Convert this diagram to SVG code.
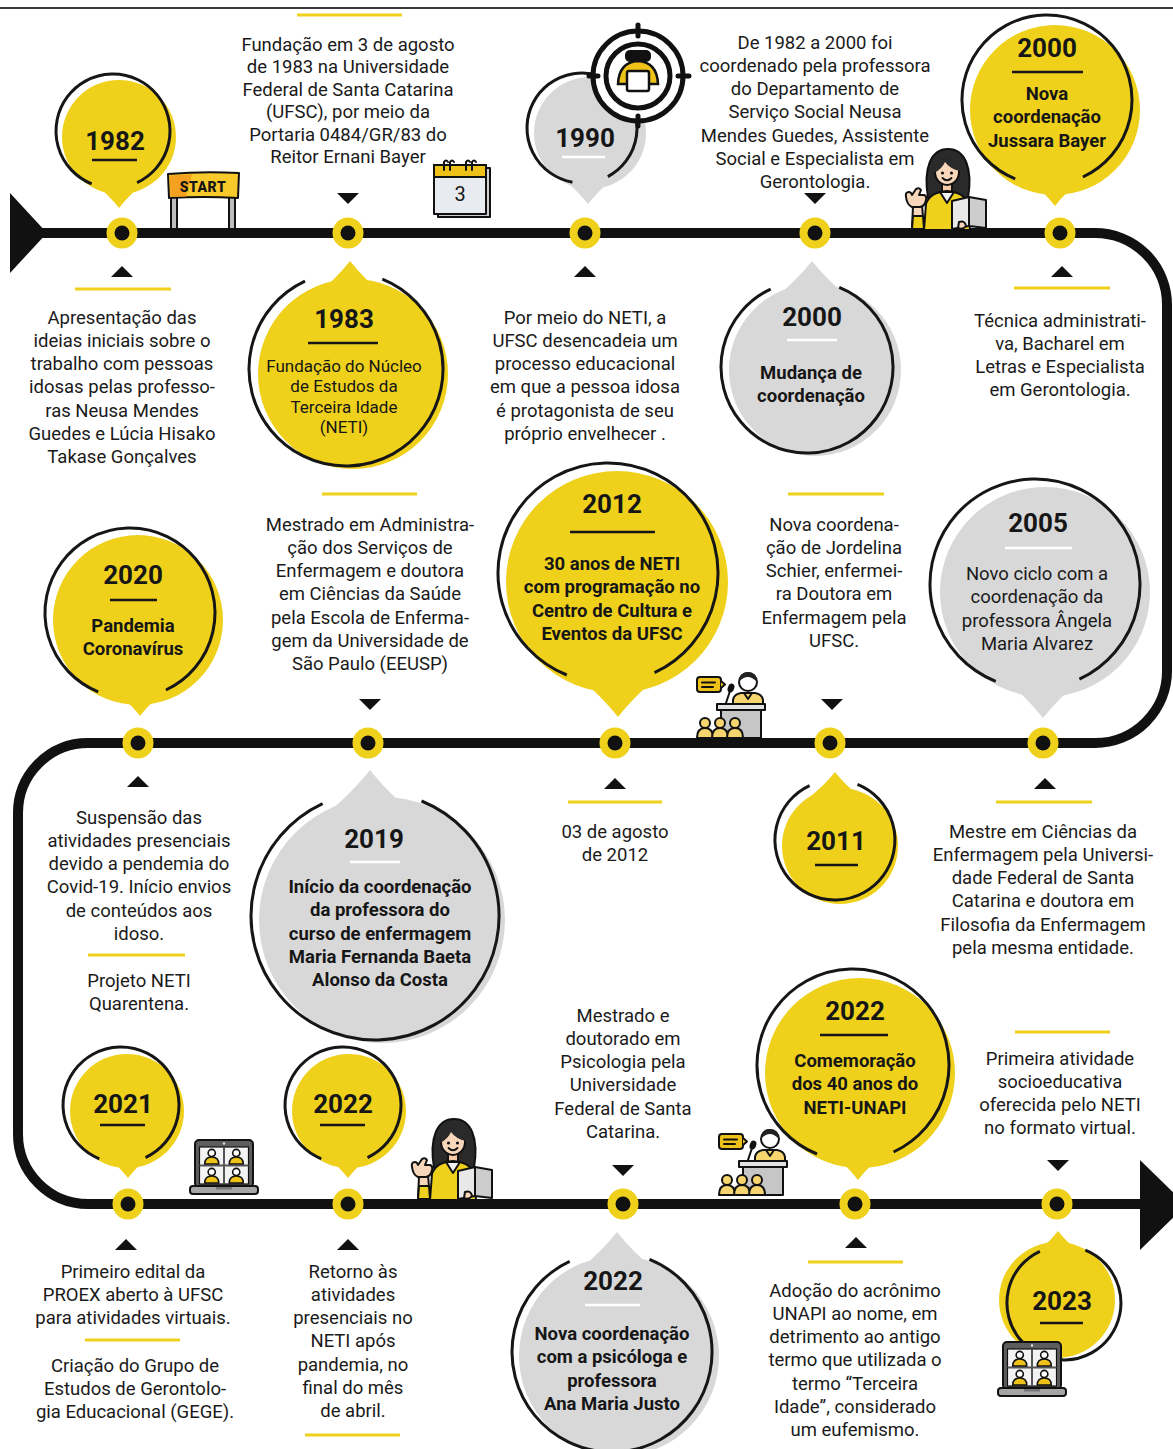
<svg xmlns="http://www.w3.org/2000/svg" width="1173" height="1449" viewBox="0 0 1173 1449">
<defs>
<style>
.tx{font-family:Roboto,"Liberation Sans",sans-serif;font-size:18.5px;fill:#1a1a1a;text-anchor:middle}
.yr{font-family:Roboto,"Liberation Sans",sans-serif;font-size:26px;font-weight:700;fill:#161616;text-anchor:middle}
.bd{font-family:Roboto,"Liberation Sans",sans-serif;font-size:18.5px;font-weight:700;fill:#161616;text-anchor:middle}
.sm{font-family:Roboto,"Liberation Sans",sans-serif;font-size:17px;fill:#161616;text-anchor:middle}
.yel{fill:#efd11c}
.gry{fill:#d8d8d8}
.ol{fill:none;stroke:#161616;stroke-width:3}
.ul{stroke:#161616;stroke-width:2.5}
.ulw{stroke:#fff;stroke-width:2.5}
.sep{stroke:#efd11c;stroke-width:3}
.k{stroke:#111;stroke-width:2;stroke-linejoin:round;stroke-linecap:round}
</style>
<g id="dot"><circle r="15.5" fill="#efd11c"/><circle r="7.5" fill="#111"/></g>
<path id="dn" d="M-11 -5 H11 L0 6 Z" fill="#111"/>
<path id="up" d="M-11 5 H11 L0 -6 Z" fill="#111"/>
<!-- woman reading a book -->
<g id="reader">
 <path class="k" d="M25 50 C20 20 28 1 45 1 C62 1 70 20 65 50 Z" fill="#2a2a2a"/>
 <rect class="k" x="39" y="33" width="10" height="11" fill="#f6caa6"/>
 <path class="k" d="M21 82 L23 56 Q27 44 44 43 Q61 44 65 56 L67 82 Z" fill="#efd11c"/>
 <path class="k" d="M37 44 L44 55 L51 44 Z" fill="#f2f2f2" stroke-width="1.5"/>
 <ellipse class="k" cx="44" cy="24" rx="12" ry="13" fill="#f8d6ba"/>
 <path d="M31 25 Q31 10 45 10 Q57 10 57 23 Q47 21 42 14 Q39 21 31 25 Z" fill="#2a2a2a"/>
 <circle cx="39.5" cy="25" r="1.6" fill="#111"/>
 <circle cx="48.5" cy="25" r="1.6" fill="#111"/>
 <path d="M39.5 30 Q44 34.5 48.5 30" fill="none" stroke="#111" stroke-width="1.8" stroke-linecap="round"/>
 <path class="k" d="M9 81 L10 58 L19 57 L21 81 Z" fill="#f8d6ba"/>
 <path class="k" d="M9 81 L10 68 L20 68 L21 81 Z" fill="#efd11c"/>
 <path class="k" d="M3 49 Q2 44 6 44 Q8 44 9 47 L13 41 Q16 39 18 42 L16 47 L21 47 Q24 48 23 52 Q22 58 17 59 L9 59 Q4 57 3 49 Z" fill="#f8d6ba"/>
 <path class="k" d="M49 53 L66 49 L66 78 L49 81 Z" fill="#e8e8e8"/>
 <path class="k" d="M66 49 L83 52 L83 80 L66 78 Z" fill="#cdcdcd"/>
 <path class="k" d="M56 74 Q62 72 63 78 Q60 82 55 80 Z" fill="#f8d6ba"/>
</g>
<!-- speaker at a podium with audience -->
<g id="podium">
 <rect class="k" x="2" y="7" width="24" height="15" rx="3" fill="#efc21a"/>
 <path class="k" d="M26 11 L30 14.5 L26 18" fill="#efc21a"/>
 <path class="k" d="M7 12.5 H20 M7 17 H18" fill="none"/>
 <path class="k" d="M30 36 L35 21" fill="none" stroke-width="2.5"/>
 <ellipse cx="36" cy="18" rx="3.2" ry="4.6" fill="#111" transform="rotate(20 36 18)"/>
 <path class="k" d="M38 40 V30 Q39 24 46 23 H60 Q67 24 68 30 V40 Z" fill="#f6d46e"/>
 <path class="k" d="M49 23 L53 29 L57 23" fill="none" stroke-width="1.5"/>
 <circle class="k" cx="53" cy="12" r="9" fill="#fff"/>
 <path d="M44 12 Q44 2 53 2 Q62 2 62 12 Q57 7 53 7 Q48 7 44 12 Z" fill="#222"/>
 <rect class="k" x="26" y="40" width="40" height="28" fill="#c6c6c6"/>
 <rect class="k" x="22" y="34" width="48" height="6" fill="#e2e2e2"/>
 <circle class="k" cx="10" cy="53" r="5" fill="#f6d46e"/>
 <path class="k" d="M2 68 Q2 58 10 58 Q18 58 18 68 Z" fill="#f6d46e"/>
 <circle class="k" cx="25" cy="53" r="5" fill="#f6d46e"/>
 <path class="k" d="M17 68 Q17 58 25 58 Q33 58 33 68 Z" fill="#f6d46e"/>
 <circle class="k" cx="40" cy="53" r="5" fill="#f6d46e"/>
 <path class="k" d="M32 68 Q32 58 40 58 Q48 58 48 68 Z" fill="#f6d46e"/>
</g>
<!-- laptop with video call -->
<g id="pane"><circle cx="0" cy="-3" r="3.6" fill="#fff" stroke="#111" stroke-width="1.6"/><path d="M-7 8 Q-7 1 0 1 Q7 1 7 8 Z" fill="#efc21a" stroke="#111" stroke-width="1.6"/></g>
<g id="laptop">
 <rect class="k" x="5" y="2" width="58" height="47" rx="4" fill="#5d5d5d"/>
 <rect x="9.5" y="9" width="49" height="37" fill="#f3f3f3" stroke="#111" stroke-width="1.2"/>
 <circle cx="34" cy="5.5" r="1.2" fill="#ddd"/>
 <path d="M34 9 V46 M9.5 27.5 H58.5" stroke="#555" stroke-width="2"/>
 <use href="#pane" x="21.75" y="18"/>
 <use href="#pane" x="46.25" y="18"/>
 <use href="#pane" x="21.75" y="37"/>
 <use href="#pane" x="46.25" y="37"/>
 <rect class="k" x="0" y="48" width="68" height="8" rx="3" fill="#a5a5a5"/>
 <rect x="26" y="49" width="16" height="2.5" fill="#777"/>
</g>
</defs>

<rect width="1173" height="1449" fill="#fff"/>
<line x1="0" y1="8" x2="1173" y2="8" stroke="#3a3a3a" stroke-width="2"/>

<!-- timeline -->
<g id="connectors">
 <path d="M40 233 H1095 A72 72 0 0 1 1167 305 V671 A72 72 0 0 1 1095 743 H88 A70 70 0 0 0 18 813 V1134 A70 70 0 0 0 88 1204 H1173" fill="none" stroke="#111" stroke-width="10"/>
 <path d="M10 193 L10 273 L47 233 Z" fill="#111"/>
 <path d="M1140 1160 L1140 1250 L1186 1205 Z" fill="#111"/>
 <use href="#dot" x="122" y="233"/><use href="#dot" x="348" y="233"/><use href="#dot" x="585" y="233"/><use href="#dot" x="815" y="233"/><use href="#dot" x="1060" y="233"/>
 <use href="#dot" x="138" y="743"/><use href="#dot" x="368" y="743"/><use href="#dot" x="615" y="743"/><use href="#dot" x="830" y="743"/><use href="#dot" x="1043" y="743"/>
 <use href="#dot" x="128" y="1204"/><use href="#dot" x="348" y="1204"/><use href="#dot" x="623" y="1204"/><use href="#dot" x="855" y="1204"/><use href="#dot" x="1057" y="1204"/>
 <use href="#dn" x="348" y="198"/><use href="#dn" x="815" y="198"/><use href="#dn" x="370" y="704"/><use href="#dn" x="832" y="704"/><use href="#dn" x="623" y="1170"/><use href="#dn" x="1058" y="1165"/>
 <use href="#up" x="122" y="272"/><use href="#up" x="585" y="272"/><use href="#up" x="1062" y="272"/><use href="#up" x="138" y="782"/><use href="#up" x="615" y="784"/><use href="#up" x="1045" y="784"/><use href="#up" x="126" y="1245"/><use href="#up" x="348" y="1245"/><use href="#up" x="856" y="1243"/>
</g>

<!-- separators -->
<g id="separators">
 <line class="sep" x1="297" y1="15" x2="402" y2="15"/>
 <line class="sep" x1="75" y1="289" x2="171" y2="289"/>
 <line class="sep" x1="1014" y1="288" x2="1110" y2="288"/>
 <line class="sep" x1="322" y1="494" x2="417" y2="494"/>
 <line class="sep" x1="788" y1="494" x2="884" y2="494"/>
 <line class="sep" x1="568" y1="802" x2="662" y2="802"/>
 <line class="sep" x1="996" y1="802" x2="1092" y2="802"/>
 <line class="sep" x1="88" y1="955" x2="185" y2="955"/>
 <line class="sep" x1="1015" y1="1032" x2="1110" y2="1032"/>
 <line class="sep" x1="85" y1="1340" x2="180" y2="1340"/>
 <line class="sep" x1="305" y1="1435" x2="400" y2="1435"/>
 <line class="sep" x1="808" y1="1262" x2="903" y2="1262"/>
</g>

<!-- 1982 -->
<g id="b1982">
 <circle class="yel" cx="119" cy="137" r="57"/>
 <path class="yel" d="M91 180 Q109.2 195.4 119 208 Q128.8 195.4 147 180 Z"/>
 <path class="ol" d="M91.65 183.85 A57 57 0 1 1 137.09 182.66"/>
 <text class="yr" x="115" y="150">1982</text>
 <line class="ul" x1="92" y1="160" x2="137" y2="160"/>
</g>
<!-- START sign -->
<g id="start">
 <rect class="k" x="171" y="196" width="6" height="33" fill="#bdbdbd"/>
 <rect class="k" x="229" y="196" width="6" height="33" fill="#bdbdbd"/>
 <path class="k" d="M168 174 Q203 171 239 173 L238 198 Q203 196 169 198 Z" fill="#f8c92a"/>
 <path d="M169.5 175.5 Q180 174.5 192 174 L186 196.5 L170.5 196.8 Z" fill="#f3a11e"/>
 <text x="203" y="192" font-family="Roboto,'Liberation Sans',sans-serif" font-size="14" font-weight="900" fill="#161616" text-anchor="middle" letter-spacing="0.5">START</text>
</g>
<!-- 1983 -->
<g id="b1983">
 <circle class="yel" cx="353" cy="374" r="95"/>
 <path class="yel" d="M310 301 Q336 279 350 261 Q364 279 390 301 Z"/>
 <path class="ol" d="M382.34 279.06 A97 97 0 1 1 305.01 281.09"/>
 <text class="yr" x="344" y="328">1983</text>
 <line class="ul" x1="308" y1="343" x2="378" y2="343"/>
 <text class="sm" x="344" y="372"><tspan x="344">Fundação do Núcleo</tspan><tspan x="344" dy="20.3">de Estudos da</tspan><tspan x="344" dy="20.3">Terceira Idade</tspan><tspan x="344" dy="20.3">(NETI)</tspan></text>
</g>
<!-- calendar -->
<g id="calendar">
 <rect class="k" x="438" y="168" width="52" height="49" fill="#cfcfcf"/>
 <rect class="k" x="434" y="165" width="52" height="49" fill="#e8ebef"/>
 <rect class="k" x="434" y="165" width="52" height="12" fill="#efc21a"/>
 <path class="k" d="M444 170 V162 Q446 159 448 162 M450 170 V162 Q452 159 454 162 M466 170 V162 Q468 159 470 162 M472 170 V162 Q474 159 476 162" fill="none"/>
 <text x="460" y="201" font-family="Roboto,'Liberation Sans',sans-serif" font-size="20" fill="#161616" text-anchor="middle">3</text>
</g>
<!-- 1990 -->
<g id="b1990">
 <circle class="gry" cx="590" cy="133" r="56"/>
 <path class="gry" d="M560 176 Q578.2 191.4 588 204 Q597.8 191.4 616 176 Z"/>
 <path class="ol" d="M572.45 182.16 A55 55 0 1 1 607.82 176.56"/>
 <text class="yr" x="585" y="147">1990</text>
 <line class="ulw" x1="562" y1="157" x2="605" y2="157"/>
</g>
<!-- target icon -->
<g id="target">
 <circle cx="638" cy="76" r="45" fill="#fff" stroke="#111" stroke-width="5"/>
 <circle cx="638" cy="76" r="32" fill="#fff" stroke="#111" stroke-width="5"/>
 <path d="M638 25 V36 M638 116 V126 M589 76 H598 M678 76 H689" stroke="#111" stroke-width="5" stroke-linecap="round"/>
 <path d="M618 84 Q619 62 638 61 Q657 62 658 84 Z" fill="#efc21a" stroke="#111" stroke-width="2.5"/>
 <rect x="625" y="50" width="26" height="12" rx="5" fill="#111"/>
 <rect x="627" y="71" width="22" height="20" rx="2" fill="#fff" stroke="#111" stroke-width="2.5"/>
</g>
<!-- 2000 (Mudança) -->
<g id="b2000a">
 <circle class="gry" cx="815" cy="370" r="86"/>
 <path class="gry" d="M772 301 Q798 279 812 261 Q826 279 852 301 Z"/>
 <path class="ol" d="M839.2 287.3 A86 86 0 1 1 770.7 289.1"/>
 <text class="yr" x="812" y="326">2000</text>
 <line class="ulw" x1="787" y1="340" x2="837" y2="340"/>
 <text class="bd" x="811" y="379"><tspan x="811">Mudança de</tspan><tspan x="811" dy="23.3">coordenação</tspan></text>
</g>
<!-- 2000 (Jussara) -->
<g id="b2000b">
 <circle class="yel" cx="1055" cy="110" r="85"/>
 <path class="yel" d="M1023 174 Q1043.8 191.6 1055 206 Q1066.2 191.6 1087 174 Z"/>
 <path class="ol" d="M1015.2 178.8 A85 85 0 1 1 1082.9 177"/>
 <text class="yr" x="1047" y="57">2000</text>
 <line class="ul" x1="1012" y1="72" x2="1083" y2="72"/>
 <text class="bd" x="1047" y="100"><tspan x="1047">Nova</tspan><tspan x="1047" dy="23.3">coordenação</tspan><tspan x="1047" dy="23.3">Jussara Bayer</tspan></text>
</g>
<use href="#reader" x="903" y="148"/>

<!-- row 1 texts -->
<text class="tx" x="348" y="51"><tspan x="348">Fundação em 3 de agosto</tspan><tspan x="348" dy="22.4">de 1983 na Universidade</tspan><tspan x="348" dy="22.4">Federal de Santa Catarina</tspan><tspan x="348" dy="22.4">(UFSC), por meio da</tspan><tspan x="348" dy="22.4">Portaria 0484/GR/83 do</tspan><tspan x="348" dy="22.4">Reitor Ernani Bayer</tspan></text>
<text class="tx" x="815" y="48.5"><tspan x="815">De 1982 a 2000 foi</tspan><tspan x="815" dy="23.3">coordenado pela professora</tspan><tspan x="815" dy="23.3">do Departamento de</tspan><tspan x="815" dy="23.3">Serviço Social Neusa</tspan><tspan x="815" dy="23.3">Mendes Guedes, Assistente</tspan><tspan x="815" dy="23.3">Social e Especialista em</tspan><tspan x="815" dy="23.3">Gerontologia.</tspan></text>
<text class="tx" x="122" y="323.5"><tspan x="122">Apresentação das</tspan><tspan x="122" dy="23.3">ideias iniciais sobre o</tspan><tspan x="122" dy="23.3">trabalho com pessoas</tspan><tspan x="122" dy="23.3">idosas pelas professo-</tspan><tspan x="122" dy="23.3">ras Neusa Mendes</tspan><tspan x="122" dy="23.3">Guedes e Lúcia Hisako</tspan><tspan x="122" dy="23.3">Takase Gonçalves</tspan></text>
<text class="tx" x="585" y="323.5"><tspan x="585">Por meio do NETI, a</tspan><tspan x="585" dy="23.3">UFSC desencadeia um</tspan><tspan x="585" dy="23.3">processo educacional</tspan><tspan x="585" dy="23.3">em que a pessoa idosa</tspan><tspan x="585" dy="23.3">é protagonista de seu</tspan><tspan x="585" dy="23.3">próprio envelhecer .</tspan></text>
<text class="tx" x="1060" y="326.5"><tspan x="1060">Técnica administrati-</tspan><tspan x="1060" dy="23.3">va, Bacharel em</tspan><tspan x="1060" dy="23.3">Letras e Especialista</tspan><tspan x="1060" dy="23.3">em Gerontologia.</tspan></text>

<!-- 2020 -->
<g id="b2020">
 <circle class="yel" cx="138" cy="620" r="85"/>
 <path class="yel" d="M108 684 Q128.8 701.6 140 716 Q151.2 701.6 172 684 Z"/>
 <path class="ol" d="M98.2 691.8 A85 85 0 1 1 165.9 690"/>
 <text class="yr" x="133" y="584">2020</text>
 <line class="ul" x1="110" y1="600" x2="157" y2="600"/>
 <text class="bd" x="133" y="632"><tspan x="133">Pandemia</tspan><tspan x="133" dy="23.3">Coronavírus</tspan></text>
</g>
<!-- 2012 -->
<g id="b2012">
 <circle class="yel" cx="617" cy="582" r="111"/>
 <path class="yel" d="M573 672 Q602.25 696.75 618 717 Q633.75 696.75 663 672 Z"/>
 <path class="ol" d="M566.8 675 A110 110 0 1 1 654.5 672.7"/>
 <text class="yr" x="612" y="513">2012</text>
 <line class="ul" x1="570" y1="532" x2="655" y2="532"/>
 <text class="bd" x="612" y="570"><tspan x="612">30 anos de NETI</tspan><tspan x="612" dy="23.3">com programação no</tspan><tspan x="612" dy="23.3">Centro de Cultura e</tspan><tspan x="612" dy="23.3">Eventos da UFSC</tspan></text>
</g>
<use href="#podium" x="695" y="670"/>
<!-- 2005 -->
<g id="b2005">
 <circle class="gry" cx="1045" cy="592" r="105"/>
 <path class="gry" d="M1001 676 Q1028.3 699.1 1043 718 Q1057.7 699.1 1085 676 Z"/>
 <path class="ol" d="M995.7 681.4 A105 105 0 1 1 1079.4 679.2"/>
 <text class="yr" x="1038" y="532">2005</text>
 <line class="ulw" x1="1005" y1="548" x2="1072" y2="548"/>
 <text class="tx" x="1037" y="580"><tspan x="1037">Novo ciclo com a</tspan><tspan x="1037" dy="23.3">coordenação da</tspan><tspan x="1037" dy="23.3">professora Ângela</tspan><tspan x="1037" dy="23.3">Maria Alvarez</tspan></text>
</g>

<!-- row 2 texts -->
<text class="tx" x="370" y="530.5"><tspan x="370">Mestrado em Administra-</tspan><tspan x="370" dy="23.3">ção dos Serviços de</tspan><tspan x="370" dy="23.3">Enfermagem e doutora</tspan><tspan x="370" dy="23.3">em Ciências da Saúde</tspan><tspan x="370" dy="23.3">pela Escola de Enferma-</tspan><tspan x="370" dy="23.3">gem da Universidade de</tspan><tspan x="370" dy="23.3">São Paulo (EEUSP)</tspan></text>
<text class="tx" x="834" y="530.5"><tspan x="834">Nova coordena-</tspan><tspan x="834" dy="23.3">ção de Jordelina</tspan><tspan x="834" dy="23.3">Schier, enfermei-</tspan><tspan x="834" dy="23.3">ra Doutora em</tspan><tspan x="834" dy="23.3">Enfermagem pela</tspan><tspan x="834" dy="23.3">UFSC.</tspan></text>
<text class="tx" x="139" y="823.5"><tspan x="139">Suspensão das</tspan><tspan x="139" dy="23.3">atividades presenciais</tspan><tspan x="139" dy="23.3">devido a pendemia do</tspan><tspan x="139" dy="23.3">Covid-19.  Início envios</tspan><tspan x="139" dy="23.3">de conteúdos aos</tspan><tspan x="139" dy="23.3">idoso.</tspan></text>
<text class="tx" x="139" y="986.5"><tspan x="139">Projeto NETI</tspan><tspan x="139" dy="23.3">Quarentena.</tspan></text>
<text class="tx" x="615" y="837.5"><tspan x="615">03 de agosto</tspan><tspan x="615" dy="23.3">de 2012</tspan></text>
<text class="tx" x="1043" y="837.5"><tspan x="1043">Mestre em Ciências da</tspan><tspan x="1043" dy="23.3">Enfermagem pela Universi-</tspan><tspan x="1043" dy="23.3">dade Federal de Santa</tspan><tspan x="1043" dy="23.3">Catarina e doutora em</tspan><tspan x="1043" dy="23.3">Filosofia da Enfermagem</tspan><tspan x="1043" dy="23.3">pela mesma entidade.</tspan></text>

<!-- 2019 -->
<g id="b2019">
 <circle class="gry" cx="382" cy="920" r="123"/>
 <path class="gry" d="M322 818 Q353.2 791.6 370 770 Q386.8 791.6 418 818 Z"/>
 <path class="ol" d="M421.5 801 A124 124 0 1 1 322.6 803.6"/>
 <text class="yr" x="374" y="848">2019</text>
 <line class="ulw" x1="350" y1="862" x2="400" y2="862"/>
 <text class="bd" x="380" y="893"><tspan x="380">Início da coordenação</tspan><tspan x="380" dy="23.3">da professora do</tspan><tspan x="380" dy="23.3">curso de enfermagem</tspan><tspan x="380" dy="23.3">Maria Fernanda Baeta</tspan><tspan x="380" dy="23.3">Alonso da Costa</tspan></text>
</g>
<!-- 2011 -->
<g id="b2011">
 <circle class="yel" cx="840" cy="846" r="58"/>
 <path class="yel" d="M810 797 Q826.25 783.25 835 772 Q843.75 783.25 860 797 Z"/>
 <path class="ol" d="M857.5 784.4 A60 60 0 1 1 809.6 785.6"/>
 <text class="yr" x="836" y="850">2011</text>
 <line class="ul" x1="815" y1="865" x2="858" y2="865"/>
</g>

<!-- 2021 -->
<g id="b2021">
 <circle class="yel" cx="127" cy="1111" r="57"/>
 <path class="yel" d="M104 1154 Q119.6 1167.2 128 1178 Q136.4 1167.2 152 1154 Z"/>
 <path class="ol" d="M99.3 1158.8 A58 58 0 1 1 145.5 1157.6"/>
 <text class="yr" x="123" y="1113">2021</text>
 <line class="ul" x1="100" y1="1125" x2="145" y2="1125"/>
</g>
<use href="#laptop" x="190" y="1138"/>
<!-- 2022 -->
<g id="b2022a">
 <circle class="yel" cx="349" cy="1111" r="57"/>
 <path class="yel" d="M324 1154 Q339.6 1167.2 348 1178 Q356.4 1167.2 372 1154 Z"/>
 <path class="ol" d="M321.3 1158.8 A58 58 0 1 1 367.5 1157.6"/>
 <text class="yr" x="343" y="1113">2022</text>
 <line class="ul" x1="320" y1="1125" x2="365" y2="1125"/>
</g>
<use href="#reader" x="409" y="1118"/>
<use href="#podium" x="717" y="1127"/>
<!-- 2022 (40 anos) -->
<g id="b2022b">
 <circle class="yel" cx="860" cy="1073" r="95"/>
 <path class="yel" d="M822 1144 Q845.4 1163.8 858 1180 Q870.6 1163.8 894 1144 Z"/>
 <path class="ol" d="M817 1154 A96 96 0 1 1 893.6 1152"/>
 <text class="yr" x="855" y="1020">2022</text>
 <line class="ul" x1="820" y1="1035" x2="888" y2="1035"/>
 <text class="bd" x="855" y="1067"><tspan x="855">Comemoração</tspan><tspan x="855" dy="23.3">dos 40 anos do</tspan><tspan x="855" dy="23.3">NETI-UNAPI</tspan></text>
</g>

<!-- row 3 texts -->
<text class="tx" x="623" y="1021.5"><tspan x="623">Mestrado e</tspan><tspan x="623" dy="23.3">doutorado em</tspan><tspan x="623" dy="23.3">Psicologia pela</tspan><tspan x="623" dy="23.3">Universidade</tspan><tspan x="623" dy="23.3">Federal de Santa</tspan><tspan x="623" dy="23.3">Catarina.</tspan></text>
<text class="tx" x="1060" y="1064.5"><tspan x="1060">Primeira atividade</tspan><tspan x="1060" dy="23.3">socioeducativa</tspan><tspan x="1060" dy="23.3">oferecida pelo NETI</tspan><tspan x="1060" dy="23.3">no formato virtual.</tspan></text>
<text class="tx" x="133" y="1277.5"><tspan x="133">Primeiro edital da</tspan><tspan x="133" dy="23.3">PROEX aberto à UFSC</tspan><tspan x="133" dy="23.3">para atividades virtuais.</tspan></text>
<text class="tx" x="135" y="1371.5"><tspan x="135">Criação do Grupo de</tspan><tspan x="135" dy="23.3">Estudos de Gerontolo-</tspan><tspan x="135" dy="23.3">gia Educacional (GEGE).</tspan></text>
<text class="tx" x="353" y="1277.5"><tspan x="353">Retorno às</tspan><tspan x="353" dy="23.3">atividades</tspan><tspan x="353" dy="23.3">presenciais no</tspan><tspan x="353" dy="23.3">NETI após</tspan><tspan x="353" dy="23.3">pandemia, no</tspan><tspan x="353" dy="23.3">final do mês</tspan><tspan x="353" dy="23.3">de abril.</tspan></text>
<text class="tx" x="855" y="1296.5"><tspan x="855">Adoção do acrônimo</tspan><tspan x="855" dy="23.3">UNAPI ao nome, em</tspan><tspan x="855" dy="23.3">detrimento ao antigo</tspan><tspan x="855" dy="23.3">termo que utilizada o</tspan><tspan x="855" dy="23.3">termo “Terceira</tspan><tspan x="855" dy="23.3">Idade”, considerado</tspan><tspan x="855" dy="23.3">um eufemismo.</tspan></text>

<!-- 2022 (Ana Maria Justo) -->
<g id="b2022c">
 <circle class="gry" cx="619" cy="1356" r="100"/>
 <path class="gry" d="M575 1274 Q602.3 1250.9 617 1232 Q631.7 1250.9 659 1274 Z"/>
 <path class="ol" d="M649.5 1259.3 A100 100 0 1 1 569.7 1261.4"/>
 <text class="yr" x="613" y="1290">2022</text>
 <line class="ulw" x1="585" y1="1305" x2="640" y2="1305"/>
 <text class="bd" x="612" y="1340"><tspan x="612">Nova coordenação</tspan><tspan x="612" dy="23.3">com a psicóloga e</tspan><tspan x="612" dy="23.3">professora</tspan><tspan x="612" dy="23.3">Ana Maria Justo</tspan></text>
</g>
<!-- 2023 -->
<g id="b2023">
 <circle class="yel" cx="1057" cy="1300" r="58"/>
 <path class="yel" d="M1034 1255 Q1049.6 1241.8 1058 1231 Q1066.4 1241.8 1082 1255 Z"/>
 <path class="ol" d="M1085.35 1250.15 A57 57 0 1 1 1039.9 1251.3"/>
 <text class="yr" x="1062" y="1310">2023</text>
 <line class="ul" x1="1040" y1="1323" x2="1083" y2="1323"/>
</g>
<use href="#laptop" x="998" y="1340"/>
</svg>
